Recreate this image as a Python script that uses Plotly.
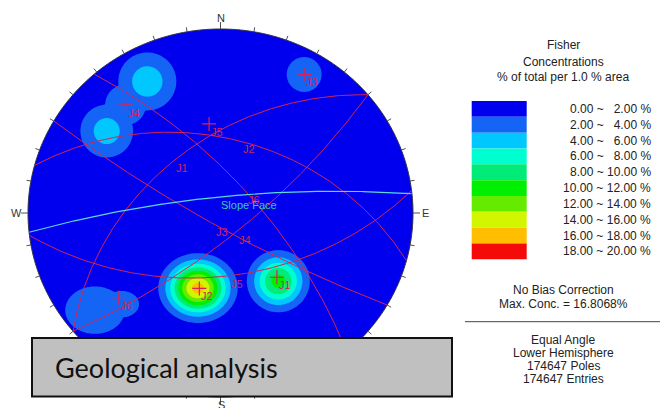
import numpy as np
import plotly.graph_objects as go

# ---------------- data ----------------
joint_sets = ["J1", "J2", "J3", "J4", "J5", "J6"]
pole_trend = [140, 195, 30, 320, 353, 229]      # degrees
pole_plunge = [41, 44, 8, 15, 38, 20]           # degrees

slope_name = "Slope Face"
slope_dipdir = 354
slope_dip = 80

# Fisher concentration clusters (peak % and spread in projected units)
dens_trend = [196, 141, 30, 332, 307, 320, 231, 226]
dens_plunge = [44, 39, 8, 12, 17, 15, 10, 19]
dens_peak = [16.8, 10.8, 3.4, 5.2, 5.0, 3.5, 3.4, 3.0]
dens_sx = [0.100, 0.089, 0.088, 0.109, 0.101, 0.100, 0.150, 0.100]
dens_sy = [0.092, 0.092, 0.092, 0.114, 0.106, 0.104, 0.125, 0.080]

bin_edges = [0, 2, 4, 6, 8, 10, 12, 14, 16, 18, 20]
bin_labels = ["0.00 ~ \u00a0\u00a02.00 %", "2.00 ~ \u00a0\u00a04.00 %", "4.00 ~ \u00a0\u00a06.00 %",
              "6.00 ~ \u00a0\u00a08.00 %", "8.00 ~ 10.00 %", "10.00 ~ 12.00 %",
              "12.00 ~ 14.00 %", "14.00 ~ 16.00 %", "16.00 ~ 18.00 %", "18.00 ~ 20.00 %"]
bin_colors = ["#0000EE", "#1464F5", "#00C8FF", "#00FFD0", "#00EB78",
              "#00EE00", "#64EB00", "#D2F500", "#FFBE00", "#F50A0A"]

legend_title = ["Fisher", "Concentrations", "% of total per 1.0 % area"]
info_top = ["No Bias Correction", "Max. Conc. = 16.8068%"]
info_bottom = ["Equal Angle", "Lower Hemisphere", "174647 Poles", "174647 Entries"]
compass = ["N", "E", "S", "W"]
banner = "Geological analysis"

# ---------------- layout geometry (pixels) ----------------
W, H = 668, 408
CX, CY, RX, RY = 220.5, 213.0, 192.5, 184.0
JOINT_COLOR = "#D42458"
SLOPE_LINE = "#5CD8DC"
SLOPE_TEXT = "#3CCBA8"
FONT = "Liberation Sans, Arial, sans-serif"


def px(x):
    return x / W


def py(y):
    return 1 - y / H


def proj_vec(e, n, d):
    return e / (1 + d), n / (1 + d)


def proj(trend, plunge):
    t, p = np.radians(trend), np.radians(plunge)
    e, n, d = np.cos(p) * np.sin(t), np.cos(p) * np.cos(t), np.sin(p)
    return proj_vec(e, n, d)


def great_circle(dipdir, dip, npts=241):
    a, dl = np.radians(dipdir), np.radians(dip)
    s = np.array([np.sin(a - np.pi / 2), np.cos(a - np.pi / 2), 0.0])
    dv = np.array([np.cos(dl) * np.sin(a), np.cos(dl) * np.cos(a), np.sin(dl)])
    phi = np.linspace(0, np.pi, npts)
    v = np.outer(np.cos(phi), s) + np.outer(np.sin(phi), dv)
    x, y = proj_vec(v[:, 0], v[:, 1], v[:, 2])
    mx, my = proj_vec(*dv)
    return x, y, mx, my


fig = go.Figure()

# ---- density grid ----
g = np.linspace(-1, 1, 321)
GX, GY = np.meshgrid(g, g)
Z = np.zeros_like(GX)
for t, p, pk, sx, sy in zip(dens_trend, dens_plunge, dens_peak, dens_sx, dens_sy):
    cx, cy = proj(t, p)
    Z = np.maximum(Z, pk * np.exp(-((GX - cx) ** 2 / (2 * sx ** 2) + (GY - cy) ** 2 / (2 * sy ** 2))))

fig.add_trace(go.Contour(
    x=g, y=g, z=Z, autocontour=False,
    contours=dict(start=bin_edges[1], end=bin_edges[-2], size=bin_edges[1] - bin_edges[0],
                  coloring="fill", showlines=False),
    colorscale=[[k / (len(bin_colors) - 1), c] for k, c in enumerate(bin_colors)],
    showscale=False, line=dict(width=0), hoverinfo="skip"))

annotations = []

# ---- great circles of joint sets ----
for name, t, p in zip(joint_sets, pole_trend, pole_plunge):
    x, y, mx, my = great_circle((t + 180) % 360, 90 - p)
    fig.add_trace(go.Scatter(x=x, y=y, mode="lines", line=dict(color=JOINT_COLOR, width=1),
                             hoverinfo="skip", showlegend=False))
    annotations.append(dict(x=mx, y=my, xref="x", yref="y", text=name, showarrow=False,
                            xanchor="left", yanchor="top", xshift=0, yshift=0,
                            font=dict(family=FONT, size=11, color=JOINT_COLOR)))

# ---- slope face ----
x, y, mx, my = great_circle(slope_dipdir, slope_dip)
fig.add_trace(go.Scatter(x=x, y=y, mode="lines", line=dict(color=SLOPE_LINE, width=1.2),
                         hoverinfo="skip", showlegend=False))
annotations.append(dict(x=mx, y=my, xref="x", yref="y", text=slope_name, showarrow=False,
                        xanchor="left", yanchor="top", xshift=0, yshift=0,
                        font=dict(family=FONT, size=11, color=SLOPE_TEXT)))

# ---- poles ----
pxs, pys = proj(np.array(pole_trend), np.array(pole_plunge))
fig.add_trace(go.Scatter(x=pxs, y=pys, mode="markers",
                         marker=dict(symbol="cross-thin", size=10,
                                     line=dict(color=JOINT_COLOR, width=1.2)),
                         hoverinfo="skip", showlegend=False))
for name, xx, yy in zip(joint_sets, pxs, pys):
    annotations.append(dict(x=xx, y=yy, xref="x", yref="y", text=name, showarrow=False,
                            xanchor="left", yanchor="top", xshift=0, yshift=0,
                            font=dict(family=FONT, size=11, color=JOINT_COLOR)))

# ---- mask outside the primitive, primitive, ticks ----
th = np.linspace(0, 2 * np.pi, 721)
circ = " ".join(f"{'M' if i == 0 else 'L'}{np.cos(a):.5f},{np.sin(a):.5f}" for i, a in enumerate(th)) + " Z"
mask = "M-1.08,-1.08 L1.08,-1.08 L1.08,1.08 L-1.08,1.08 Z " + circ
shapes = [
    dict(type="path", xref="x", yref="y", path=mask, fillcolor="white", fillrule="evenodd",
         line=dict(width=0), layer="above"),
    dict(type="path", xref="x", yref="y", path=circ, line=dict(color="#303040", width=1),
         layer="above"),
]
tick_path = []
for az in range(0, 360, 10):
    a = np.radians(az)
    L = 7.0 if az % 90 == 0 else 4.5
    x0, y0 = np.sin(a), np.cos(a)
    x1, y1 = np.sin(a) * (1 + L / RX), np.cos(a) * (1 + L / RY)
    tick_path.append(f"M{x0:.5f},{y0:.5f} L{x1:.5f},{y1:.5f}")
shapes.append(dict(type="path", xref="x", yref="y", path=" ".join(tick_path),
                   line=dict(color="#505050", width=1), layer="above"))

compass_pos = {"N": (221, 18), "E": (425, 213), "S": (221, 405), "W": (16, 212.5)}
for c in compass:
    cx_, cy_ = compass_pos[c]
    annotations.append(dict(x=px(cx_), y=py(cy_), xref="paper", yref="paper", text=c,
                            showarrow=False, xanchor="center", yanchor="middle",
                            font=dict(family=FONT, size=11, color="#333333")))

# ---- legend ----
sw_x0, sw_x1, sw_y0, row_h = 471.7, 526.7, 101.0, 15.83
for k, (lab, col) in enumerate(zip(bin_labels, bin_colors)):
    y0 = sw_y0 + k * row_h
    shapes.append(dict(type="rect", xref="paper", yref="paper", x0=px(sw_x0), x1=px(sw_x1),
                       y0=py(y0), y1=py(y0 + row_h), fillcolor=col, line=dict(width=0)))
    annotations.append(dict(x=px(653), y=py(y0 + row_h / 2), xref="paper", yref="paper", text=lab,
                            showarrow=False, xanchor="right", yanchor="middle",
                            font=dict(family=FONT, size=12, color="#222222")))

for text, yy in zip(legend_title, [45, 61.5, 77]):
    annotations.append(dict(x=px(563), y=py(yy), xref="paper", yref="paper", text=text,
                            showarrow=False, xanchor="center", yanchor="middle",
                            font=dict(family=FONT, size=12, color="#222222")))
for text, yy in zip(info_top, [290, 303.5]):
    annotations.append(dict(x=px(563), y=py(yy), xref="paper", yref="paper", text=text,
                            showarrow=False, xanchor="center", yanchor="middle",
                            font=dict(family=FONT, size=12, color="#222222")))
for text, yy in zip(info_bottom, [340, 353, 366, 378.5]):
    annotations.append(dict(x=px(563), y=py(yy), xref="paper", yref="paper", text=text,
                            showarrow=False, xanchor="center", yanchor="middle",
                            font=dict(family=FONT, size=12, color="#222222")))
shapes.append(dict(type="line", xref="paper", yref="paper", x0=px(465), x1=px(660),
                   y0=py(321.7), y1=py(321.7), line=dict(color="#444444", width=1)))

# ---- banner ----
shapes.append(dict(type="rect", xref="paper", yref="paper", x0=px(32), x1=px(452),
                   y0=py(338), y1=py(396.5), fillcolor="#C0C0C0",
                   line=dict(color="#111111", width=2), layer="above"))
annotations.append(dict(x=px(53), y=py(367), xref="paper", yref="paper", text=banner,
                        showarrow=False, xanchor="left", yanchor="middle",
                        font=dict(family="Lato, Open Sans, sans-serif", size=27, color="#111111")))

fig.update_layout(
    width=W, height=H, autosize=False,
    margin=dict(l=0, r=0, t=0, b=0, pad=0),
    paper_bgcolor="white", plot_bgcolor="white",
    xaxis=dict(range=[(0 - CX) / RX, (W - CX) / RX], visible=False, fixedrange=True),
    yaxis=dict(range=[(CY - H) / RY, CY / RY], visible=False, fixedrange=True),
    shapes=shapes, annotations=annotations, showlegend=False,
)

fig.write_html("out.html", config={"displayModeBar": False},
               post_script="document.body.style.margin='0px';document.body.style.overflow='hidden';")
